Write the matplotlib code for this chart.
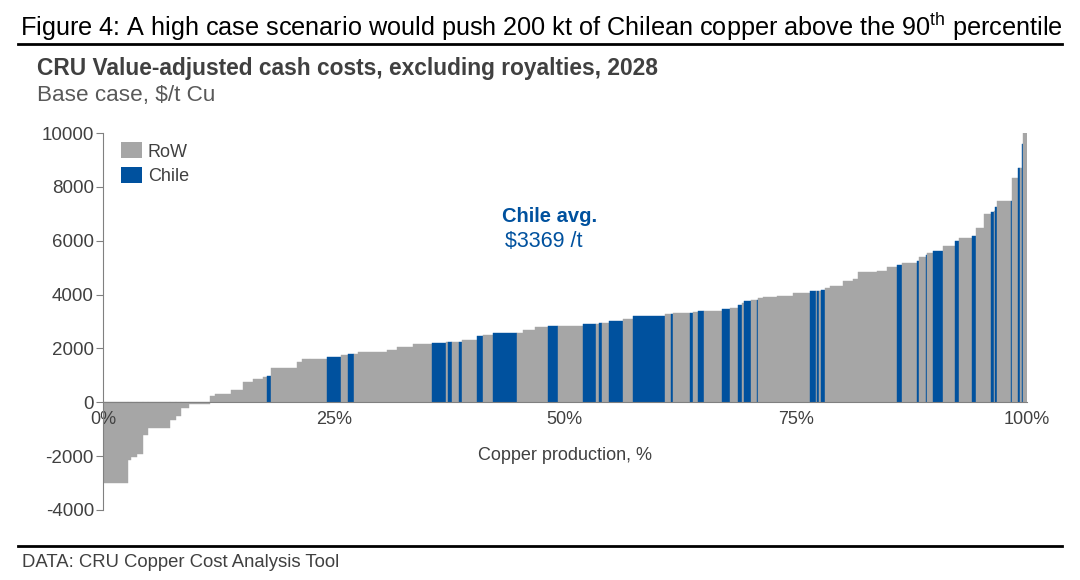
import numpy as np
import matplotlib
matplotlib.use("Agg")
import matplotlib.pyplot as plt
from matplotlib.patches import Patch
from matplotlib.lines import Line2D

plt.rcParams['font.family'] = ['Liberation Sans', 'DejaVu Sans']
plt.rcParams['mathtext.fontset'] = 'custom'
plt.rcParams['mathtext.rm'] = 'Liberation Sans'

# right edge of each producer block on the cost curve, % of production
cum_share = [
    2.74, 3.00, 3.65, 4.36, 4.90, 7.25, 7.90, 8.44, 9.34, 11.58,
    12.13, 13.82, 15.12, 16.27, 17.35, 17.72, 18.16, 21.03, 21.51, 22.41,
    24.28, 25.77, 26.56, 27.17, 27.64, 30.71, 31.80, 33.59, 35.58, 37.13,
    37.35, 37.78, 38.54, 38.90, 40.52, 41.11, 42.25, 44.79, 45.50, 46.77,
    48.21, 49.29, 51.93, 53.37, 53.70, 54.02, 54.75, 56.26, 57.41, 60.84,
    61.46, 61.68, 63.55, 63.91, 64.45, 65.06, 66.98, 67.88, 68.71, 69.15,
    69.43, 70.15, 70.77, 70.88, 71.48, 72.93, 74.73, 76.54, 77.19, 77.33,
    77.55, 77.73, 78.16, 78.71, 80.08, 81.23, 81.77, 83.76, 84.91, 85.93,
    86.47, 88.09, 88.31, 89.10, 89.24, 89.82, 90.97, 92.24, 92.67, 94.11,
    94.51, 95.41, 96.13, 96.51, 96.62, 96.75, 98.27, 98.41, 99.09, 99.27,
    99.49, 99.63, 100.0,
]
# value-adjusted cash cost, $/t Cu
cost = [
    -3000, -2130, -2030, -1930, -1200, -955, -670, -520, -210, -75,
    235, 320, 450, 755, 880, 940, 965, 1270, 1500, 1600,
    1620, 1675, 1745, 1795, 1810, 1880, 1935, 2060, 2155, 2220,
    2225, 2230, 2235, 2245, 2300, 2455, 2500, 2565, 2575, 2675,
    2800, 2825, 2835, 2900, 2925, 2935, 2950, 3010, 3100, 3200,
    3270, 3280, 3310, 3310, 3345, 3380, 3405, 3455, 3505, 3605,
    3670, 3755, 3790, 3790, 3855, 3905, 3955, 4050, 4125, 4130,
    4140, 4150, 4165, 4250, 4310, 4510, 4560, 4845, 4880, 5030,
    5090, 5180, 5255, 5380, 5480, 5555, 5615, 5800, 5985, 6085,
    6170, 6455, 6975, 7050, 7100, 7240, 7470, 7470, 8315, 8710,
    8710, 9580, 9990,
]
# C = Chile, R = rest of world
region = list(
    "RRRRRRRRRR"
    "RRRRRRCRRR"
    "RCRCRRRRRC"
    "RCRCRCRCRR"
    "RCRCRCRCRC"
    "RCRCRCRCRC"
    "RCRCRRRRCR"
    "CRCRRRRRRR"
    "CRCRCRCRCR"
    "CRRCRCRCRC"
    "RCR"
)
chile_avg = 3369

ROW_COL = "#a6a6a6"
CHILE_COL = "#00519e"
TXT = "#404040"
AX_COL = "#808080"

edges = np.concatenate([[0.0], cum_share])
widths = np.diff(edges)
colors = [CHILE_COL if r == "C" else ROW_COL for r in region]

fig = plt.figure(figsize=(10.8, 5.8), dpi=100)
ax = fig.add_axes([103 / 1080, 70 / 580, 923.7 / 1080, 377 / 580])

ax.bar(edges[:-1], cost, width=widths, align="edge", color=colors,
       edgecolor=colors, linewidth=0.3)

ax.set_xlim(0, 100)
ax.set_ylim(-4000, 10000)
ax.set_yticks(np.arange(-4000, 10001, 2000))
ax.set_yticklabels([str(v) for v in range(-4000, 10001, 2000)])
ax.set_xticks([0, 25, 50, 75, 100])
ax.set_xticklabels(["0%", "25%", "50%", "75%", "100%"])

for s in ["top", "right"]:
    ax.spines[s].set_visible(False)
ax.spines["bottom"].set_position(("data", 0))
ax.spines["bottom"].set_color(AX_COL)
ax.spines["left"].set_color(AX_COL)
ax.tick_params(axis="y", length=5, color=AX_COL, labelcolor=TXT, labelsize=13.5, pad=1.5)
ax.tick_params(axis="x", length=0, labelcolor=TXT, labelsize=13, pad=6)

ax.text(50, -1970, "Copper production, %", ha="center", va="center",
        color=TXT, fontsize=13)
ax.text(48.3, 6900, "Chile avg.", ha="center", va="center",
        color=CHILE_COL, fontsize=14.5, fontweight="bold")
ax.text(47.7, 5980, f"${chile_avg} /t", ha="center", va="center",
        color=CHILE_COL, fontsize=15.5)

handles = [Patch(facecolor=ROW_COL, label="RoW"), Patch(facecolor=CHILE_COL, label="Chile")]
leg = ax.legend(handles=handles, loc="upper left", bbox_to_anchor=(0.008, 1.004),
                frameon=False, fontsize=13, handlelength=1.17, handleheight=1.0,
                handletextpad=0.3, labelspacing=0.35, borderaxespad=0.2)
for t in leg.get_texts():
    t.set_color(TXT)

fig.text(20 / 1080, 1 - 36 / 580,
         r"Figure 4: A high case scenario would push 200 kt of Chilean copper above the 90$^{\mathrm{th}}$ percentile",
         fontsize=18.2, color="black", va="baseline")
fig.add_artist(Line2D([18 / 1080, 1062 / 1080], [1 - 44 / 580] * 2, color="black", lw=2))
fig.text(37 / 1080, 1 - 75 / 580, "CRU Value-adjusted cash costs, excluding royalties, 2028",
         fontsize=16.4, fontweight="bold", color=TXT, va="baseline")
fig.text(37 / 1080, 1 - 101 / 580, "Base case, $/t Cu", fontsize=16.2, color="#595959",
         va="baseline")
fig.add_artist(Line2D([18 / 1080, 1062 / 1080], [1 - 546 / 580] * 2, color="black", lw=2))
fig.text(22 / 1080, 1 - 567 / 580, "DATA: CRU Copper Cost Analysis Tool", fontsize=13.3,
         color=TXT, va="baseline")

fig.savefig("out.png", dpi=100)
